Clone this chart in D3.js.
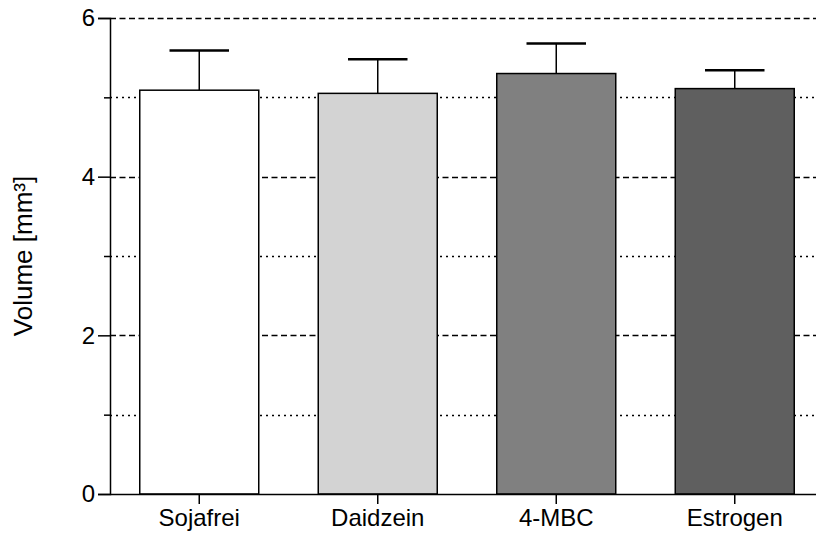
<!DOCTYPE html>
<html>
<head>
<meta charset="utf-8">
<script src="https://cdn.jsdelivr.net/npm/d3@7"></script>
<style>
  html, body { margin: 0; padding: 0; background: #fff; }
  svg { display: block; font-family: "Liberation Sans", Arial, sans-serif; }
</style>
</head>
<body>
<svg id="chart" width="816" height="536"></svg>
<script>
// Group labels, mean volumes and upper error (mean + SD) in mm³
const groups = ["Sojafrei", "Daidzein", "4-MBC", "Estrogen"];
const means = [5.09, 5.05, 5.30, 5.11];
const errTops = [5.59, 5.48, 5.68, 5.34];
const fills = ["#ffffff", "#d3d3d3", "#808080", "#5f5f5f"];
const majorTicks = [0, 2, 4, 6];
const minorTicks = [1, 3, 5];

const W = 816, H = 536;
const mLeft = 110, mRight = 824, mTop = 18, mBottom = 494;

const svg = d3.select("#chart");

const x = d3.scaleBand()
  .domain(groups)
  .range([mLeft, mRight])
  .paddingInner(1 / 3)
  .paddingOuter(1 / 6);

const y = d3.scaleLinear().domain([0, 6]).range([mBottom, mTop]);

// Gridlines: dashed at major ticks, dotted at minor ticks
const grid = svg.append("g");
grid.selectAll("line.major")
  .data(majorTicks.filter(d => d > 0))
  .join("line")
  .attr("x1", mLeft).attr("x2", W)
  .attr("y1", d => Math.round(y(d)) + 0.5).attr("y2", d => Math.round(y(d)) + 0.5)
  .attr("stroke", "#000").attr("stroke-width", 1.3)
  .attr("stroke-dasharray", "6,3.5");
grid.selectAll("line.minor")
  .data(minorTicks)
  .join("line")
  .attr("x1", mLeft).attr("x2", W)
  .attr("y1", d => Math.round(y(d)) + 0.5).attr("y2", d => Math.round(y(d)) + 0.5)
  .attr("stroke", "#000").attr("stroke-width", 1.4)
  .attr("stroke-dasharray", "2,4");

// Error bars (upper whisker only)
const bw = x.bandwidth();
const err = svg.append("g");
err.selectAll("line.stem")
  .data(groups)
  .join("line")
  .attr("x1", d => x(d) + bw / 2).attr("x2", d => x(d) + bw / 2)
  .attr("y1", (d, i) => y(means[i])).attr("y2", (d, i) => y(errTops[i]))
  .attr("stroke", "#000").attr("stroke-width", 1.5);
err.selectAll("line.cap")
  .data(groups)
  .join("line")
  .attr("x1", d => x(d) + bw / 4).attr("x2", d => x(d) + bw * 3 / 4)
  .attr("y1", (d, i) => y(errTops[i])).attr("y2", (d, i) => y(errTops[i]))
  .attr("stroke", "#000").attr("stroke-width", 2.5);

// Bars
svg.append("g").selectAll("rect")
  .data(groups)
  .join("rect")
  .attr("x", d => x(d))
  .attr("width", bw)
  .attr("y", (d, i) => y(means[i]))
  .attr("height", (d, i) => y(0) - y(means[i]))
  .attr("fill", (d, i) => fills[i])
  .attr("stroke", "#000")
  .attr("stroke-width", 1.5);

// Y axis with major labelled ticks and short minor ticks
const yAxis = svg.append("g")
  .attr("transform", `translate(${mLeft},0)`)
  .call(d3.axisLeft(y).tickValues(majorTicks).tickSize(12).tickPadding(3).tickFormat(d3.format("d")));
yAxis.select(".domain").attr("stroke-width", 1.5);
yAxis.selectAll(".tick line").attr("stroke-width", 1.5);
yAxis.selectAll("text").attr("font-size", 24).attr("font-family", "Liberation Sans, Arial, sans-serif").attr("fill", "#000");

svg.append("g")
  .attr("transform", `translate(${mLeft},0)`)
  .call(d3.axisLeft(y).tickValues(minorTicks).tickSize(6).tickFormat(""))
  .call(g => g.select(".domain").remove())
  .selectAll(".tick line").attr("stroke-width", 1.5);

// X axis
const xAxis = svg.append("g")
  .attr("transform", `translate(0,${mBottom})`)
  .call(d3.axisBottom(x).tickSize(10).tickPadding(5).tickSizeOuter(0));
xAxis.select(".domain").attr("d", `M${mLeft},0.5H${W}`).attr("stroke-width", 1.5);
xAxis.selectAll(".tick line").attr("stroke-width", 1.5);
xAxis.selectAll("text").attr("font-size", 24).attr("font-family", "Liberation Sans, Arial, sans-serif").attr("fill", "#000");

// Axis title
svg.append("text")
  .attr("transform", `translate(32,${(mTop + mBottom) / 2}) rotate(-90)`)
  .attr("text-anchor", "middle")
  .attr("font-size", 26)
  .text("Volume [mm³]");
</script>
</body>
</html>
